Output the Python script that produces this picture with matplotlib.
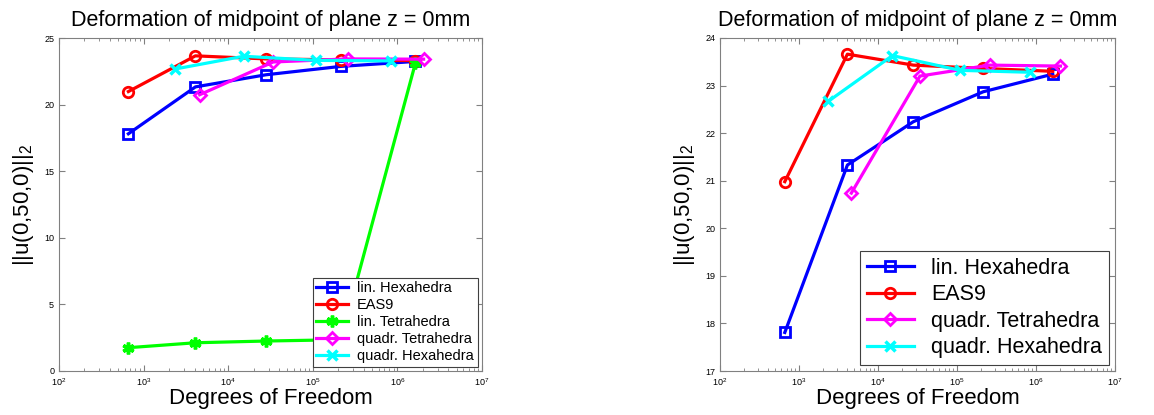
import matplotlib
matplotlib.use("Agg")
import matplotlib.pyplot as plt
from matplotlib.ticker import LogLocator, FixedLocator

plt.rcParams['font.family'] = ['Liberation Sans', 'DejaVu Sans']

# ---- data ----
dof_hex = [661, 4100, 28000, 2.15e5, 1.63e6]
dof_qtet = [4600, 34000, 2.58e5, 2.04e6]
dof_qhex = [2350, 15200, 1.1e5, 8.3e5]

lin_hex = [17.81, 21.33, 22.24, 22.87, 23.24]
eas9 = [20.98, 23.66, 23.43, 23.36, 23.30]
lin_tet = [1.75, 2.12, 2.25, 2.35, 23.1]
quad_tet = [20.74, 23.20, 23.43, 23.41]
quad_hex = [22.67, 23.63, 23.32, 23.28]

labels = ["lin. Hexahedra", "EAS9", "lin. Tetrahedra", "quadr. Tetrahedra", "quadr. Hexahedra"]
title = "Deformation of midpoint of plane z = 0mm"
xlabel = "Degrees of Freedom"
ylabel = r"$\mathregular{||u(0{,}50{,}0)||_2}$"

left_yticks = [0, 5, 10, 15, 20, 25]
right_yticks = [17, 18, 19, 20, 21, 22, 23, 24]

fig = plt.figure(figsize=(11.54, 4.15), dpi=100)
ax1 = fig.add_axes([59/1154, 1-371/415, (482-59)/1154, (371-38)/415])
ax2 = fig.add_axes([720/1154, 1-371/415, (1115-720)/1154, (371-38)/415])

lw = 2.3
ms = 7.5
mew = 2.0

def style(ax, yticks):
    ax.set_xscale('log')
    ax.set_xlim(1e2, 1e7)
    ax.set_ylim(yticks[0], yticks[-1])
    ax.yaxis.set_major_locator(FixedLocator(yticks))
    ax.xaxis.set_major_locator(LogLocator(base=10, numticks=10))
    ax.xaxis.set_minor_locator(LogLocator(base=10, subs=range(2, 10), numticks=100))
    ax.tick_params(which='both', direction='in', top=True, right=True,
                   colors='#808080', labelcolor='black', labelsize=6.5)
    ax.tick_params(which='major', length=4)
    ax.tick_params(which='minor', length=2)
    for s in ax.spines.values():
        s.set_color('#808080')
        s.set_linewidth(0.8)
    ax.set_title(title, fontsize=15.5, pad=9)
    ax.set_xlabel(xlabel, fontsize=16, labelpad=0)
    ax.set_ylabel(ylabel, fontsize=16, labelpad=6)

# left plot
ax1.plot(dof_hex, lin_hex, color=(0, 0, 1), lw=lw, marker='s', ms=ms, mfc='none', mew=mew, label=labels[0])
ax1.plot(dof_hex, eas9, color=(1, 0, 0), lw=lw, marker='o', ms=ms, mfc='none', mew=mew, label=labels[1])
ax1.plot(dof_hex, lin_tet, color=(0, 1, 0), lw=lw, marker=(6, 2, 0), ms=ms + 1, mew=2.5, label=labels[2])
ax1.plot(dof_qtet, quad_tet, color=(1, 0, 1), lw=lw, marker='D', ms=ms - 1, mfc='none', mew=mew, label=labels[3])
ax1.plot(dof_qhex, quad_hex, color=(0, 1, 1), lw=lw, marker='x', ms=ms - 1, mew=2.5, label=labels[4])
style(ax1, left_yticks)
leg1 = ax1.legend(loc='lower right', fontsize=10.5, labelspacing=0.2, handlelength=2.2,
                  borderaxespad=0.3, fancybox=False, framealpha=1, edgecolor='#404040',
                  borderpad=0.25, handletextpad=0.6)
leg1.get_frame().set_linewidth(0.8)

# right plot
ax2.plot(dof_hex, lin_hex, color=(0, 0, 1), lw=lw, marker='s', ms=ms, mfc='none', mew=mew, label=labels[0])
ax2.plot(dof_hex, eas9, color=(1, 0, 0), lw=lw, marker='o', ms=ms, mfc='none', mew=mew, label=labels[1])
ax2.plot(dof_qtet, quad_tet, color=(1, 0, 1), lw=lw, marker='D', ms=ms - 1, mfc='none', mew=mew, label=labels[3])
ax2.plot(dof_qhex, quad_hex, color=(0, 1, 1), lw=lw, marker='x', ms=ms - 1, mew=2.5, label=labels[4])
style(ax2, right_yticks)
leg2 = ax2.legend(loc='lower right', fontsize=15.5, labelspacing=0.25, handlelength=2.2,
                  borderaxespad=0.3, fancybox=False, framealpha=1, edgecolor='#404040',
                  borderpad=0.3, handletextpad=0.8)
leg2.get_frame().set_linewidth(0.8)

fig.savefig("out.png", dpi=100)
